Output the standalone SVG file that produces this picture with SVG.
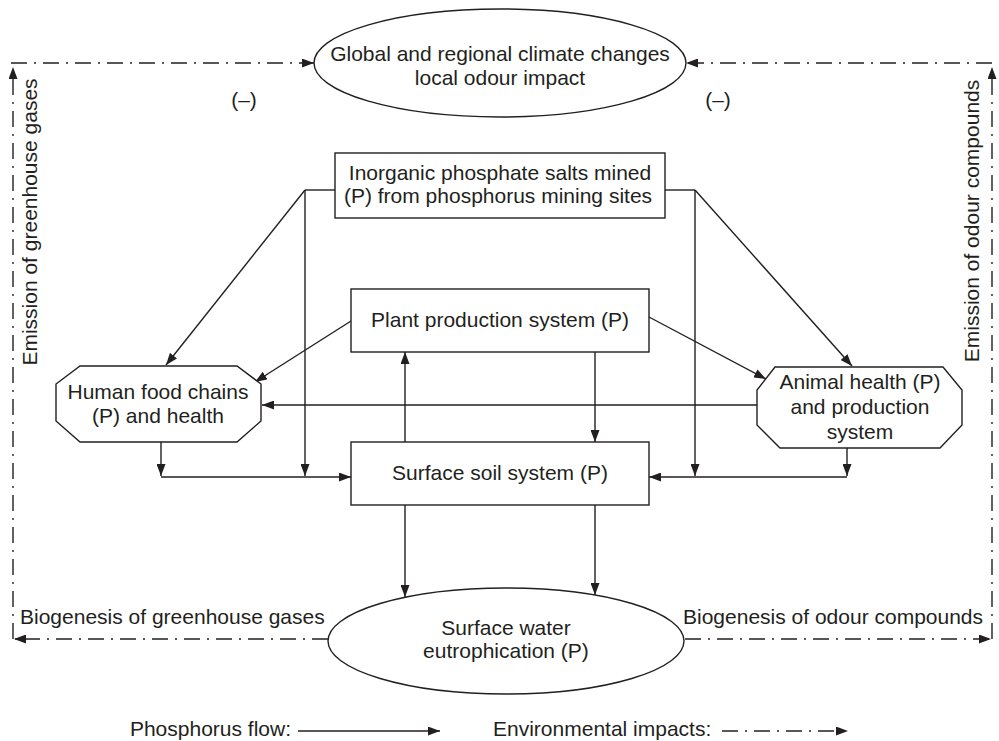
<svg xmlns="http://www.w3.org/2000/svg" width="999" height="741" viewBox="0 0 999 741">
<style>
  text { font-family: "Liberation Sans", Arial, Helvetica, sans-serif; font-size: 21px; fill: #231f20; }
  .c { text-anchor: middle; }
  .shape { fill: #ffffff; stroke: #231f20; stroke-width: 1.4; }
  .flow { fill: none; stroke: #231f20; stroke-width: 1.4; }
  .arr { marker-end: url(#ah); }
  .env { fill: none; stroke: #231f20; stroke-width: 1.4; stroke-dasharray: 16 7 2 7; marker-end: url(#ah); }
</style>
<defs>
  <marker id="ah" viewBox="0 0 12 9" refX="12" refY="4.5" markerWidth="12" markerHeight="9" markerUnits="userSpaceOnUse" orient="auto">
    <path d="M0,0 L12,4.5 L0,9 z" fill="#231f20"/>
  </marker>
</defs>

<g id="connectors">
  <!-- environmental impacts (dash-dot) -->
  <line class="env" x1="11" y1="63" x2="314" y2="63"/>
  <line class="env" x1="992" y1="63" x2="686" y2="63"/>
  <line class="env" x1="13" y1="639" x2="13" y2="67"/>
  <line class="env" x1="992" y1="639" x2="992" y2="67"/>
  <line class="env" x1="328" y1="639" x2="14" y2="639"/>
  <line class="env" x1="685" y1="639" x2="991" y2="639"/>

  <!-- phosphorus flows -->
  <polyline class="flow" points="335,190 305,190"/>
  <polyline class="flow" points="665,190 695,190"/>
  <line class="flow arr" x1="305" y1="190" x2="166" y2="365"/>
  <line class="flow arr" x1="695" y1="190" x2="852" y2="366"/>
  <line class="flow arr" x1="305" y1="190" x2="305" y2="476"/>
  <line class="flow arr" x1="695" y1="190" x2="695" y2="476"/>

  <line class="flow arr" x1="351" y1="321" x2="255" y2="382"/>
  <line class="flow arr" x1="649" y1="317" x2="766" y2="379"/>
  <line class="flow arr" x1="757" y1="405" x2="262" y2="405"/>

  <line class="flow arr" x1="595" y1="352" x2="595" y2="442"/>
  <line class="flow arr" x1="405" y1="442" x2="405" y2="352"/>

  <line class="flow arr" x1="161" y1="442" x2="161" y2="476"/>
  <line class="flow arr" x1="161" y1="477" x2="351" y2="477"/>
  <line class="flow arr" x1="847" y1="448" x2="847" y2="476"/>
  <line class="flow arr" x1="847" y1="477" x2="649" y2="477"/>

  <line class="flow arr" x1="405" y1="505" x2="405" y2="597"/>
  <line class="flow arr" x1="595" y1="505" x2="595" y2="595"/>
</g>

<g id="climate">
  <ellipse class="shape" cx="500" cy="63" rx="186" ry="54"/>
  <text class="c" x="500" y="61">Global and regional climate changes</text>
  <text class="c" x="500" y="85">local odour impact</text>
</g>

<g id="minus-left"><text class="c" x="244" y="107">(–)</text></g>
<g id="minus-right"><text class="c" x="718" y="107">(–)</text></g>

<g id="inorganic">
  <rect class="shape" x="335" y="153" width="330" height="65"/>
  <text class="c" x="500" y="180">Inorganic phosphate salts mined</text>
  <text class="c" x="498" y="203">(P) from phosphorus mining sites</text>
</g>

<g id="plant">
  <rect class="shape" x="351" y="289" width="298" height="63"/>
  <text class="c" x="500" y="327">Plant production system (P)</text>
</g>

<g id="human">
  <polygon class="shape" points="80,366 237,366 261,384 261,421 237,442 80,442 56,421 56,384"/>
  <text class="c" x="158" y="399">Human food chains</text>
  <text class="c" x="158" y="423">(P) and health</text>
</g>

<g id="animal">
  <polygon class="shape" points="775,367 943,367 962,390 962,425 940,448 780,448 757,425 757,390"/>
  <text class="c" x="860" y="389">Animal health (P)</text>
  <text class="c" x="860" y="414">and production</text>
  <text class="c" x="860" y="439">system</text>
</g>

<g id="soil">
  <rect class="shape" x="351" y="442" width="298" height="63"/>
  <text class="c" x="500" y="480">Surface soil system (P)</text>
</g>

<g id="water">
  <ellipse class="shape" cx="506" cy="641" rx="178" ry="53"/>
  <text class="c" x="506" y="635">Surface water</text>
  <text class="c" x="506" y="658">eutrophication (P)</text>
</g>

<g id="labels">
  <text class="c" transform="translate(37,222) rotate(-90)">Emission of greenhouse gases</text>
  <text class="c" transform="translate(979,221) rotate(-90)">Emission of odour compounds</text>
  <text x="20" y="624">Biogenesis of greenhouse gases</text>
  <text x="683" y="624">Biogenesis of odour compounds</text>
</g>

<g id="legend">
  <text x="291" y="736" style="text-anchor:end">Phosphorus flow:</text>
  <line class="flow arr" x1="298" y1="731" x2="440" y2="731"/>
  <text x="493" y="736">Environmental impacts:</text>
  <line class="env" x1="722" y1="731" x2="848" y2="731"/>
</g>
</svg>
